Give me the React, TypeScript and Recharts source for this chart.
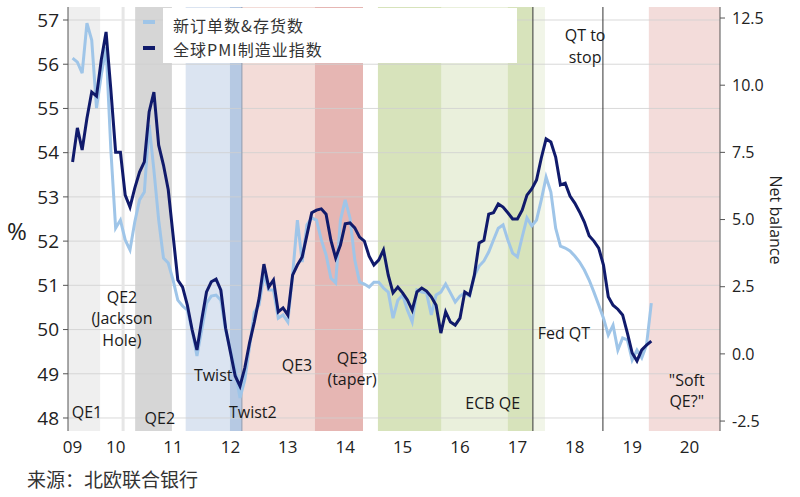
import React from "react";
import {
  LineChart,
  Line,
  XAxis,
  YAxis,
  ReferenceArea,
  ReferenceLine,
  ReferenceDot
} from "recharts";

// monthly series, first point Oct 2009
const startYear = 2009;
const startMonth = 10;

// global manufacturing PMI (left axis, %)
const pmi = [
  53.79, 54.56, 54.06, 54.78, 55.37, 55.28, 56.1, 56.73, 55.42, 54.01,
  54.01, 53.04, 52.77, 53.2, 53.56, 53.79, 54.92, 55.37, 54.17, 53.72,
  53.16, 52.14, 51.12, 50.96, 50.55, 49.99, 49.54, 50.22, 50.85, 51.08,
  51.14, 50.89, 50.03, 49.49, 48.95, 48.72, 49.13, 49.7, 50.17, 50.71,
  51.48, 50.96, 51.12, 50.4, 50.49, 50.33, 51.23, 51.46, 51.64, 52.14,
  52.64, 52.7, 52.73, 52.61, 52.02, 51.62, 51.91, 52.39, 52.41, 52.3,
  52.09, 52.0, 51.66, 51.46, 51.57, 51.8, 51.23, 50.83, 50.96, 50.83,
  50.67, 50.44, 50.85, 50.94, 50.87, 50.74, 50.55, 49.92, 50.4, 50.17,
  50.1, 50.26, 50.85, 50.78, 51.23, 51.96, 52.02, 52.61, 52.64, 52.84,
  52.77, 52.64, 52.5, 52.5, 52.7, 53.04, 53.18, 53.38, 53.88, 54.31,
  54.24, 53.9, 53.27, 53.31, 53.02, 52.86, 52.66, 52.43, 52.12, 52.0,
  51.84, 51.46, 50.74, 50.55, 50.46, 50.33, 49.92, 49.47, 49.29, 49.54,
  49.65, 49.74
];

// new orders minus inventories (right axis, net balance)
const orders = [
  11.01, 10.86, 10.45, 12.31, 11.68, 9.15, 10.38, 11.42, 7.59, 4.68,
  4.98, 4.24, 3.87, 4.91, 5.73, 6.02, 8.52, 6.84, 4.98, 3.57,
  3.38, 2.75, 2.0, 1.78, 1.63, 0.89, -0.08, 0.89, 1.89, 2.15,
  2.19, 2.0, 0.89, 0.14, -0.6, -1.64, -0.97, 0.26, 1.56, 1.82,
  2.94, 2.38, 2.38, 1.33, 1.45, 1.19, 2.94, 4.98, 3.42, 4.8,
  5.06, 4.98, 4.24, 3.68, 2.82, 2.64, 4.98, 5.73, 5.06, 3.49,
  2.67, 2.6, 2.49, 2.67, 2.67, 2.45, 2.3, 1.33, 2.0, 2.19,
  1.63, 1.19, 2.38, 2.3, 2.27, 1.45, 2.19, 2.3, 2.6, 2.27,
  1.93, 2.15, 2.27, 2.15, 2.9, 3.27, 3.46, 3.79, 4.24, 4.68,
  4.8, 4.24, 3.75, 3.61, 4.35, 5.06, 4.76, 4.98, 5.73, 6.58,
  6.02, 4.68, 4.01, 3.94, 3.83, 3.64, 3.42, 3.12, 2.75, 2.3,
  1.82, 1.33, 0.7, 1.07, 0.14, 0.59, 0.52, -0.23, 0.14, -0.15,
  0.33, 1.89
];

const xDomain = [2009.67, 2021.03];
const yearTicks = [2010, 2011, 2012, 2013, 2014, 2015, 2016, 2017, 2018, 2019, 2020];
const yearLabelAt = [2009.75, 2010.5, 2011.5, 2012.5, 2013.5, 2014.5, 2015.5, 2016.5, 2017.5, 2018.5, 2019.5, 2020.5];
const yearLabels = ["09", "10", "11", "12", "13", "14", "15", "16", "17", "18", "19", "20"];

const leftDomain = [47.706, 57.294];
const leftTicks = [48, 49, 50, 51, 52, 53, 54, 55, 56, 57];
const rightDomain = [-2.87, 12.91];
const rightTicks = [-2.5, 0, 2.5, 5, 7.5, 10, 12.5];

// policy regimes shaded behind the lines
const bandFrom = [2009.67, 2010.84, 2011.72, 2012.49, 2012.7, 2013.97, 2015.07, 2016.18, 2017.33, 2017.77, 2019.79];
const bandTo = [2010.23, 2011.48, 2012.49, 2012.7, 2013.97, 2014.81, 2016.18, 2017.33, 2017.77, 2017.98, 2021.03];
const bandKind = ["qe1", "qe2", "twist", "twist2", "qe3", "taper", "ecb", "ecbLight", "ecb", "ecbFaint", "soft"];

const bandColors: Record<string, string> = {
  qe1: "#efefef",
  qe2: "#d6d6d6",
  twist: "#dbe4f1",
  twist2: "#b6c9e3",
  qe3: "#f3dcd8",
  taper: "#e6b6b3",
  ecb: "#d7e3bb",
  ecbLight: "#eaf0dc",
  ecbFaint: "#f1f5e8",
  soft: "#f3dcda"
};

const darkDividers = [2017.77, 2018.99];

const notes = [
  { x: 2010.0, y: 48.14, lines: ["QE1"] },
  { x: 2010.61, y: 50.74, lines: ["QE2", "(Jackson", "Hole)"] },
  { x: 2011.27, y: 48.0, lines: ["QE2"] },
  { x: 2012.2, y: 48.97, lines: ["Twist"] },
  { x: 2012.89, y: 48.14, lines: ["Twist2"] },
  { x: 2013.66, y: 49.2, lines: ["QE3"] },
  { x: 2014.62, y: 49.36, lines: ["QE3", "(taper)"] },
  { x: 2017.07, y: 48.34, lines: ["ECB QE"] },
  { x: 2018.31, y: 49.92, lines: ["Fed QT"] },
  { x: 2018.68, y: 56.66, lines: ["QT to", "stop"] },
  { x: 2020.45, y: 48.86, lines: ['"Soft', 'QE?"'] }
];

const SANS = "'Open Sans', 'Noto Sans', sans-serif";
const CJK = "'Noto Sans CJK SC', sans-serif";
const DARK = "#101a6b";
const LIGHT = "#9fc5e8";
const AXIS = "#555";

const data = pmi.map((v, i) => ({
  t: startYear + (startMonth - 1 + i) / 12,
  pmi: v,
  orders: orders[i]
}));

function NoteText(props: any) {
  const { cx, cy, lines } = props;
  return (
    <text
      x={cx}
      y={cy}
      textAnchor="middle"
      fontFamily={SANS}
      fontSize={16}
      fill="#1a1a1a"
    >
      {lines.map((l: string, i: number) => (
        <tspan key={i} x={cx} y={cy + i * 21.5} dominantBaseline="central">
          {l}
        </tspan>
      ))}
    </text>
  );
}

export default function App() {
  return (
    <div style={{ position: "absolute", left: 0, top: 0, width: 800, height: 497, background: "#fff" }}>
      <LineChart width={800} height={497} data={data} margin={{ top: 7, right: 0, bottom: 0, left: 0 }}>
        <XAxis
          xAxisId="t"
          type="number"
          dataKey="t"
          domain={xDomain}
          allowDataOverflow
          ticks={yearTicks}
          interval={0}
          tickFormatter={() => ""}
          height={0}
          tickSize={6}
          axisLine={{ stroke: AXIS }}
          tickLine={{ stroke: AXIS }}
        />
        <XAxis
          xAxisId="l"
          type="number"
          dataKey="t"
          domain={xDomain}
          allowDataOverflow
          ticks={yearLabelAt}
          interval={0}
          tickFormatter={(v) => yearLabels[yearLabelAt.indexOf(v)]}
          height={66}
          axisLine={false}
          tickLine={false}
          tickSize={0}
          tickMargin={10}
          tick={{ fill: "#222", fontSize: 17, fontFamily: SANS }}
        />
        <YAxis
          yAxisId="left"
          orientation="left"
          width={68}
          domain={leftDomain}
          allowDataOverflow
          ticks={leftTicks}
          interval={0}
          tickSize={5}
          tickMargin={4}
          axisLine={{ stroke: AXIS }}
          tickLine={{ stroke: AXIS }}
          tick={{ fill: "#222", fontSize: 19, fontFamily: SANS }}
        />
        <YAxis
          yAxisId="right"
          orientation="right"
          width={80}
          domain={rightDomain}
          allowDataOverflow
          ticks={rightTicks}
          interval={0}
          tickFormatter={(v) => v.toFixed(1)}
          tickSize={5}
          tickMargin={7}
          axisLine={{ stroke: AXIS }}
          tickLine={{ stroke: AXIS }}
          tick={{ fill: "#222", fontSize: 16, fontFamily: SANS }}
        />

        {bandFrom.map((f, i) => (
          <ReferenceArea
            key={"b" + i}
            xAxisId="t"
            yAxisId="left"
            x1={f}
            x2={bandTo[i]}
            fill={bandColors[bandKind[i]]}
            fillOpacity={1}
            stroke="none"
            ifOverflow="hidden"
          />
        ))}
        {leftTicks.map((v) => (
          <ReferenceLine key={"g" + v} xAxisId="t" yAxisId="left" y={v} stroke="#cfcfcf" strokeOpacity={0.8} />
        ))}
        <ReferenceLine xAxisId="t" yAxisId="left" x={2010.63} stroke="#e6e6e6" strokeWidth={3} />
        <ReferenceLine xAxisId="t" yAxisId="left" x={2012.7} stroke="#8d9aae" strokeWidth={1} />
        {darkDividers.map((x) => (
          <ReferenceLine key={"d" + x} xAxisId="t" yAxisId="left" x={x} stroke="#333" strokeWidth={1} />
        ))}

        {/* same domain as "t"; keeps the label axis tied to real data */}
        <Line
          xAxisId="l"
          yAxisId="right"
          dataKey="orders"
          stroke={LIGHT}
          strokeWidth={3}
          dot={false}
          isAnimationActive={false}
        />
        <Line
          xAxisId="t"
          yAxisId="left"
          dataKey="pmi"
          stroke={DARK}
          strokeWidth={3}
          dot={false}
          isAnimationActive={false}
        />

        {notes.map((n, i) => (
          <ReferenceDot
            key={"n" + i}
            xAxisId="t"
            yAxisId="left"
            x={n.x}
            y={n.y}
            r={0}
            shape={(p: any) => <NoteText cx={p.cx} cy={p.cy} lines={n.lines} />}
          />
        ))}
      </LineChart>

      <svg
        width={800}
        height={497}
        style={{ position: "absolute", left: 0, top: 0, pointerEvents: "none" }}
      >
        <rect x={163} y={8} width={354} height={55} fill="#fff" />
        <line x1={143} x2={155} y1={22} y2={22} stroke={LIGHT} strokeWidth={4} />
        <text x={173} y={25} fontFamily={CJK} fontSize={16} fill="#333" letterSpacing={1} dominantBaseline="central">
          新订单数&存货数
        </text>
        <line x1={143} x2={155} y1={48} y2={48} stroke={DARK} strokeWidth={4} />
        <text x={173} y={49} fontFamily={CJK} fontSize={16} fill="#333" letterSpacing={1} dominantBaseline="central">
          全球PMI制造业指数
        </text>

        <text x={17} y={230} fontFamily={SANS} fontSize={24} fill="#222" textAnchor="middle" dominantBaseline="central">
          %
        </text>
        <text
          x={776}
          y={220}
          fontFamily={SANS}
          fontSize={16}
          fill="#222"
          textAnchor="middle"
          dominantBaseline="central"
          transform="rotate(90 776 220)"
        >
          Net balance
        </text>
        <text x={27} y={478} fontFamily={CJK} fontSize={19} fill="#333" dominantBaseline="central">
          来源：北欧联合银行
        </text>
      </svg>
    </div>
  );
}
